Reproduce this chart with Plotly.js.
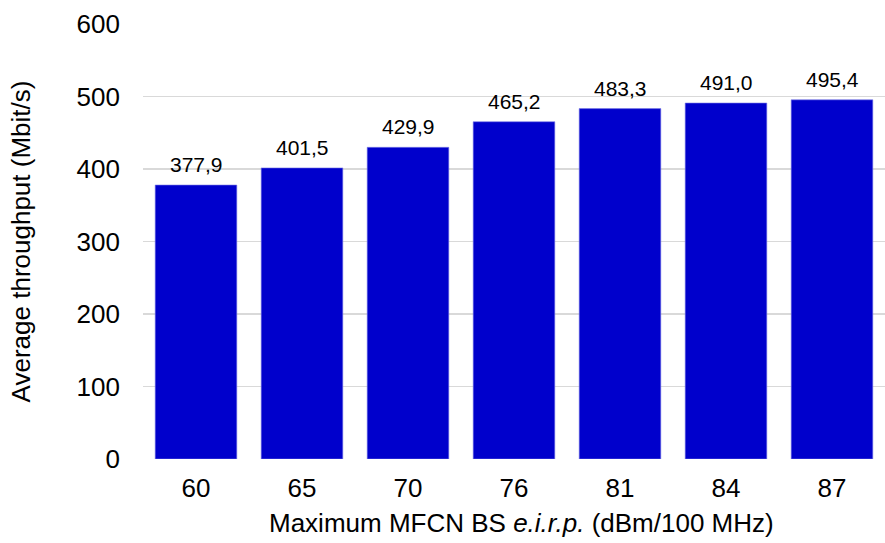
<!DOCTYPE html>
<html>
<head>
<meta charset="utf-8">
<script src="https://cdn.plot.ly/plotly-3.0.1.min.js"></script>
<style>html,body{margin:0;padding:0;background:#fff;}#chart{width:885px;height:543px;}</style>
</head>
<body>
<div id="chart"></div>
<script>
const categories = ["60", "65", "70", "76", "81", "84", "87"];
const throughput = [377.9, 401.5, 429.9, 465.2, 483.3, 491.0, 495.4];
const yTicks = [0, 100, 200, 300, 400, 500, 600];

const labels = throughput.map(v => v.toFixed(1).replace('.', ','));
const FONT = 'Liberation Sans, Arial, sans-serif';

const trace = {
  type: 'bar',
  x: categories,
  y: throughput,
  marker: {color: '#0000CC', line: {color: '#7B7BE8', width: 0.6}},
  hoverinfo: 'none'
};

// category axis: annotation x given as category index
const labelAnnotations = categories.map((c, i) => ({
  x: i, y: throughput[i], xref: 'x', yref: 'y',
  text: labels[i], showarrow: false,
  xanchor: 'center', yanchor: 'bottom', yshift: 7,
  font: {family: FONT, size: 21, color: '#000'}
}));

const layout = {
  width: 885, height: 543,
  margin: {l: 143, r: 0, t: 24, b: 84},
  paper_bgcolor: '#fff', plot_bgcolor: '#fff',
  font: {family: FONT, color: '#000', size: 26},
  bargap: 0.23,
  showlegend: false,
  xaxis: {
    type: 'category',
    range: [-0.5, categories.length - 0.5],
    showgrid: false, zeroline: false, showline: false,
    ticks: '', tickfont: {size: 26}, ticklabelstandoff: 11
  },
  yaxis: {
    range: [0, 600],
    tickvals: yTicks,
    showgrid: true, gridcolor: '#D9D9D9', gridwidth: 1.5,
    zeroline: false, showline: false, ticks: '',
    tickfont: {size: 26}, ticklabelstandoff: 22,
    title: {text: 'Average throughput (Mbit/s)', font: {size: 26}, standoff: 38}
  },
  annotations: labelAnnotations.concat([{
    text: 'Maximum MFCN BS <i>e.i.r.p.</i> (dBm/100 MHz)',
    xref: 'paper', yref: 'paper',
    x: (521 - 143) / 742, y: 0, yshift: -81,
    xanchor: 'center', yanchor: 'bottom',
    showarrow: false, font: {family: FONT, size: 26}
  }])
};

Plotly.newPlot('chart', [trace], layout, {displayModeBar: false, staticPlot: true});
</script>
</body>
</html>
